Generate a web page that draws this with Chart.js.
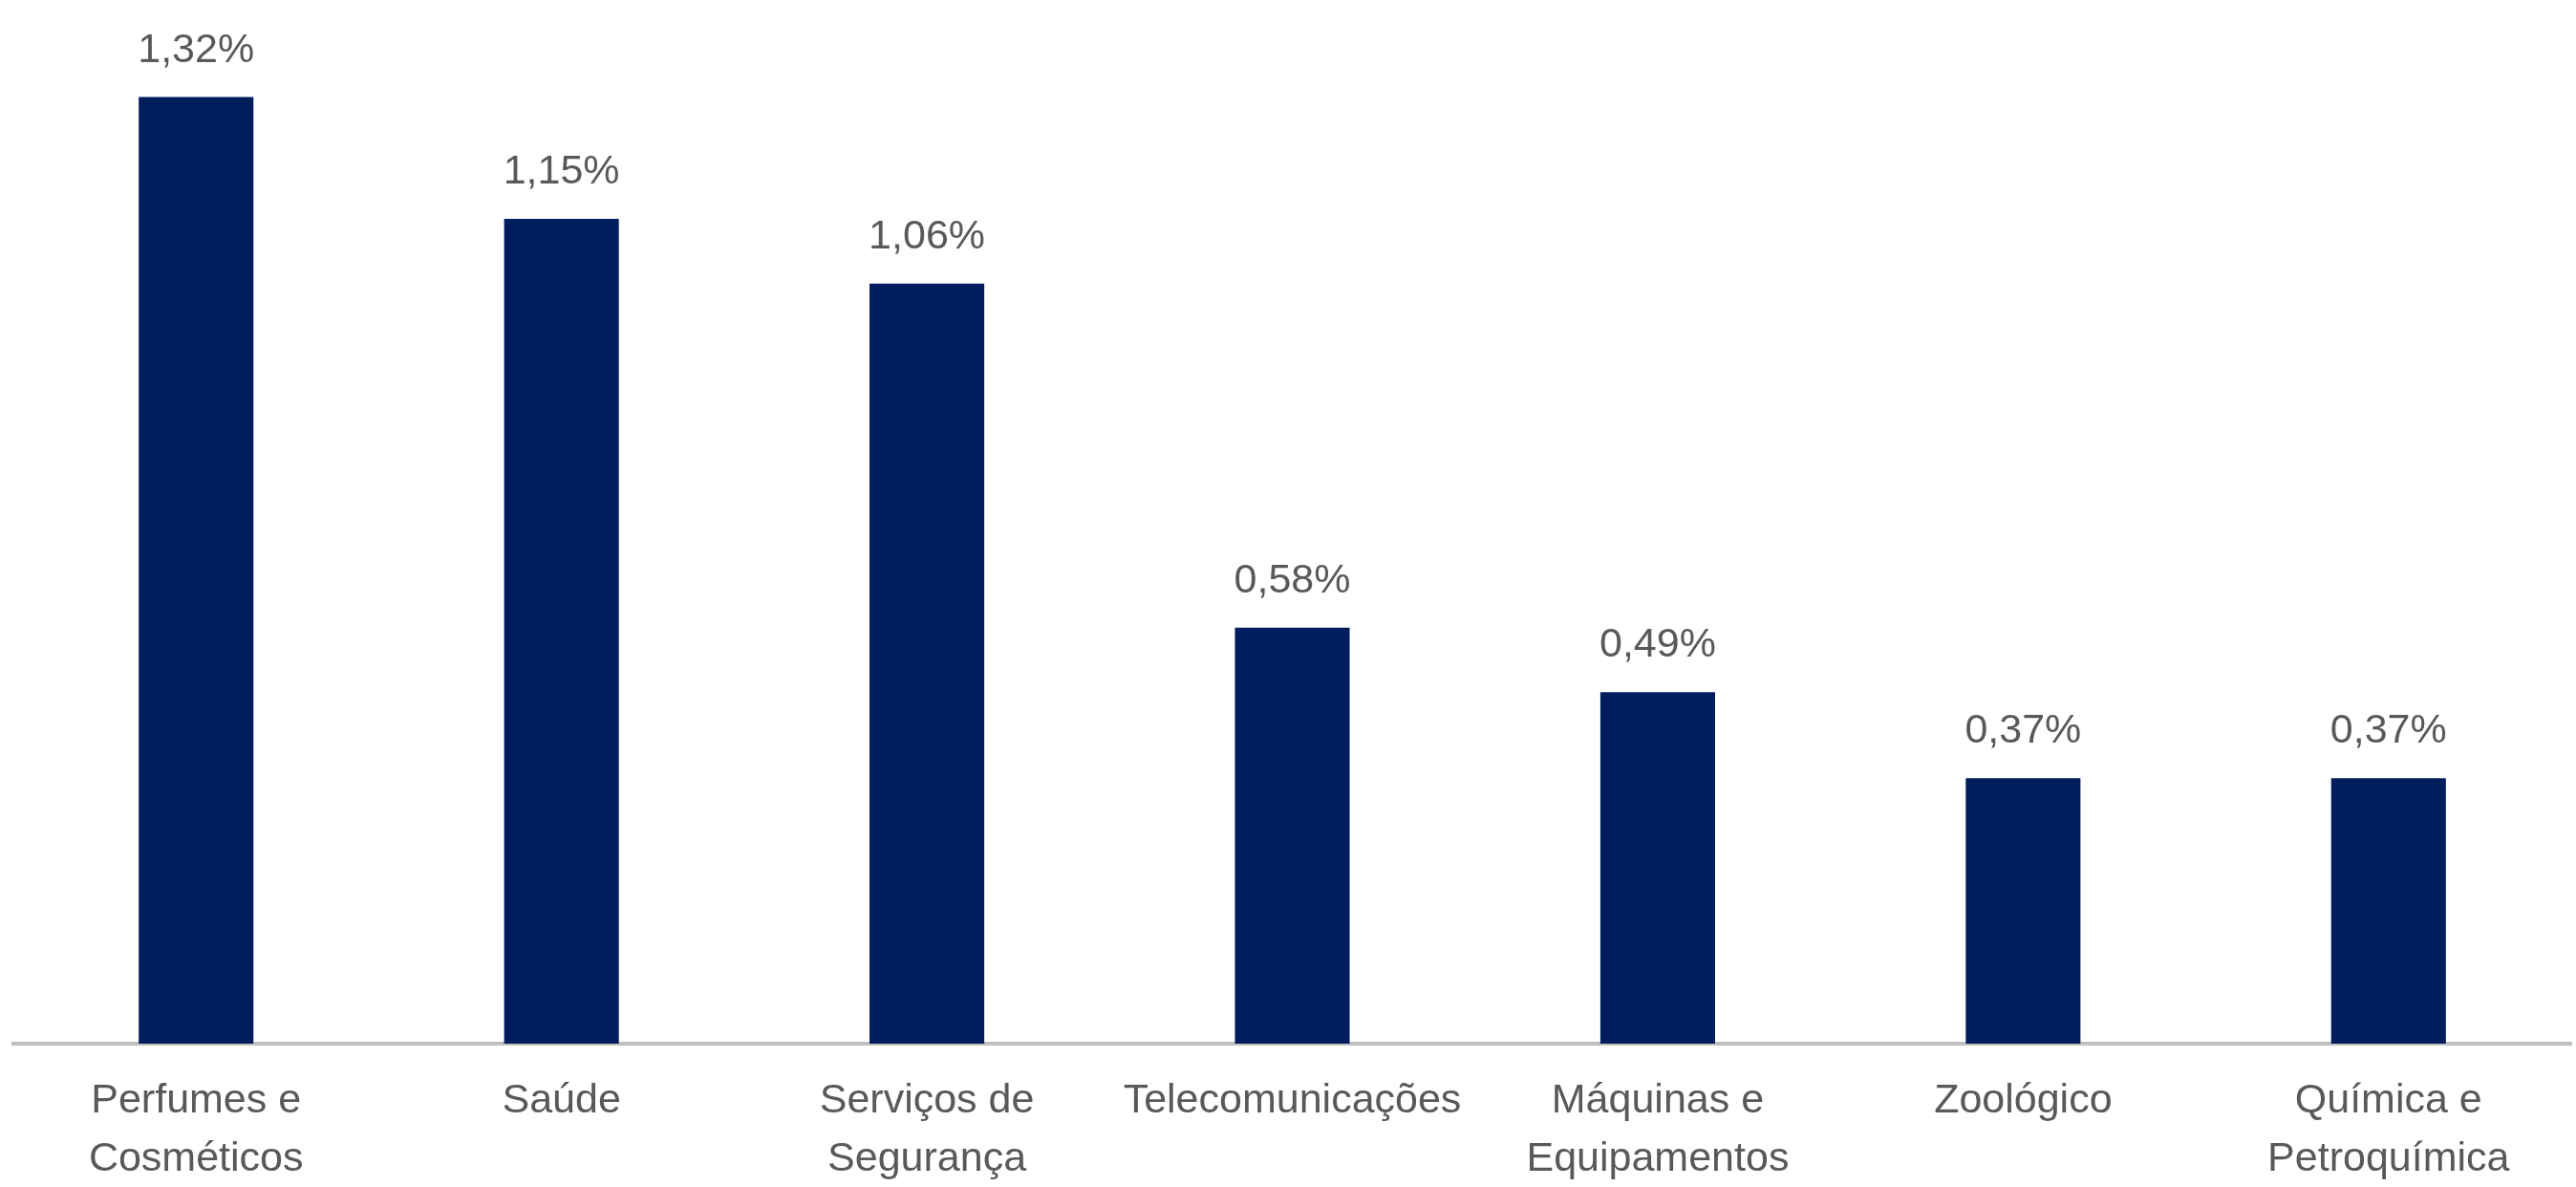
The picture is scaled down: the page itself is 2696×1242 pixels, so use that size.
<!DOCTYPE html>
<html lang="pt-BR">
<head>
<meta charset="UTF-8">
<title>Setores</title>
<script src="https://cdn.jsdelivr.net/npm/chart.js@4"></script>
<style>
    body { margin: 0; background: #ffffff; }
    #grafico { display: block; }
</style>
</head>
<body>
<canvas id="grafico" width="2696" height="1242"></canvas>
<script>
const setores = [
    ["Perfumes e", "Cosméticos"],
    "Saúde",
    ["Serviços de", "Segurança"],
    "Telecomunicações",
    ["Máquinas e", "Equipamentos"],
    "Zoológico",
    ["Química e", "Petroquímica"]
];
const valores = [1.32, 1.15, 1.06, 0.58, 0.49, 0.37, 0.37];
const rotulos = ["1,32%", "1,15%", "1,06%", "0,58%", "0,49%", "0,37%", "0,37%"];

const fonte = "'Liberation Sans', Arial, sans-serif";
const corTexto = "#595959";

// escreve o percentual em cima de cada barra
const rotulosBarras = {
    id: "rotulosBarras",
    afterDatasetsDraw(chart) {
        const ctx = chart.ctx;
        const barras = chart.getDatasetMeta(0).data;
        ctx.save();
        ctx.font = `43px ${fonte}`;
        ctx.fillStyle = corTexto;
        ctx.textAlign = "center";
        ctx.textBaseline = "alphabetic";
        barras.forEach((barra, i) => {
            ctx.fillText(rotulos[i], barra.x, barra.y - 37);
        });
        ctx.restore();
    }
};

const ctx = document.getElementById("grafico");
const grafico = new Chart(ctx, {
    type: "bar",
    data: {
        labels: setores,
        datasets: [
            {
                data: valores,
                backgroundColor: "#001E5E",
                borderWidth: 0,
                barPercentage: 0.314,
                categoryPercentage: 1
            }
        ]
    },
    options: {
        responsive: false,
        animation: false,
        layout: {
            padding: { top: 4, left: 14, right: 5, bottom: 0 }
        },
        plugins: {
            legend: { display: false },
            tooltip: { enabled: false }
        },
        scales: {
            x: {
                grid: { display: false, drawTicks: false },
                border: { display: true, color: "#bfbfbf", width: 4 },
                ticks: {
                    color: corTexto,
                    font: { family: fonte, size: 43, lineHeight: 1.42 },
                    padding: 30,
                    maxRotation: 0,
                    autoSkip: false
                },
                afterFit(escala) {
                    escala.height = 150;
                }
            },
            y: {
                display: false,
                min: 0,
                max: 1.45
            }
        }
    },
    plugins: [rotulosBarras]
});
</script>
</body>
</html>
